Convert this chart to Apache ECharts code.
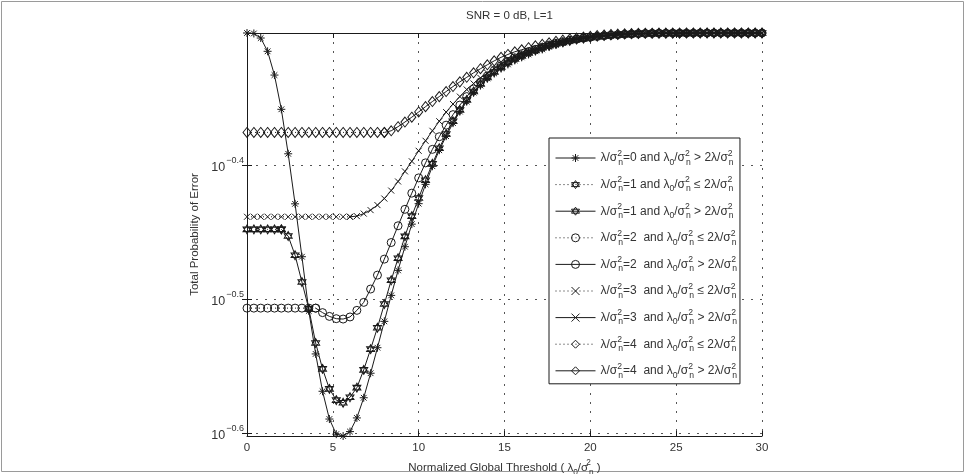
<!DOCTYPE html>
<html><head><meta charset="utf-8">
<script src="https://cdn.jsdelivr.net/npm/echarts@6/dist/echarts.min.js"></script>
<style>html,body{margin:0;padding:0;background:#fff}#c{width:966px;height:474px}</style>
</head><body><div id="c"></div>
<script>
// ---------- data ----------
const threshold = [0,0.4,0.8,1.2,1.6,2,2.4,2.8,3.2,3.6,4,4.4,4.8,5.2,5.6,6,6.4,6.8,7.2,7.6,
  8,8.4,8.8,9.2,9.6,10,10.4,10.8,11.2,11.6,12,12.4,12.8,13.2,13.6,14,14.4,14.8,15.2,15.6,
  16,16.4,16.8,17.2,17.6,18,18.4,18.8,19.2,19.6,20,20.4,20.8,21.2,21.6,22,22.4,22.8,23.2,23.6,
  24,24.4,24.8,25.2,25.6,26,26.4,26.8,27.2,27.6,28,28.4,28.8,29.2,29.6,30];

// lambda/sigma^2 = 0 (starts at threshold 0)
const peLambda0 = [0.5000,0.4996,0.4957,0.4845,0.4651,0.4385,0.4062,0.3727,0.3403,0.3100,
  0.2879,0.2700,0.2574,0.2508,0.2500,0.2519,0.2579,0.2670,0.2785,0.2910,
  0.3045,0.3184,0.3324,0.3462,0.3599,0.3728,0.3854,0.3976,0.4087,0.4187,
  0.4282,0.4368,0.4444,0.4513,0.4568,0.4624,0.4664,0.4704,0.4737,0.4770,
  0.4795,0.4819,0.4845,0.4861,0.4882,0.4899,0.4916,0.4929,0.4942,0.4950,
  0.4959,0.4967,0.4973,0.4978,0.4983,0.4987,0.4990,0.4993,0.4995,0.4997,
  0.4998,0.4998,0.4999,0.4999,0.4999,0.4999,0.5000,0.5000,0.5000,0.5000,
  0.5000,0.5000,0.5000,0.5000,0.5000,0.5000];

// lambda/sigma^2 = 1 : "<=" part from 0 to 2, ">" part from 2 to 30
const boundary1 = 2;
const peLambda1Low = [0.3567,0.3567,0.3567,0.3567,0.3567,0.3567];
const peLambda1High = [0.3567,0.3526,0.3412,0.3258,0.3111,
  0.2934,0.2806,0.2711,0.2659,0.2647,0.2672,0.2717,0.2801,0.2903,0.3012,
  0.3137,0.3268,0.3394,0.3524,0.3649,0.3764,0.3881,0.3993,0.4101,0.4202,
  0.4296,0.4380,0.4456,0.4521,0.4580,0.4632,0.4676,0.4716,0.4753,0.4782,
  0.4807,0.4832,0.4853,0.4874,0.4891,0.4908,0.4920,0.4933,0.4944,0.4952,
  0.4961,0.4969,0.4975,0.4980,0.4984,0.4988,0.4991,0.4993,0.4996,0.4997,
  0.4998,0.4998,0.4999,0.4999,0.4999,0.4999,0.4999,0.5000,0.5000,0.5000,
  0.5000,0.5000,0.5000,0.5000,0.5000,0.5000];

// lambda/sigma^2 = 2 : "<=" part 0..4, ">" part 4..30
const boundary2 = 4;
const peLambda2Low = [0.3115,0.3115,0.3115,0.3115,0.3115,0.3115,0.3115,0.3115,0.3115,0.3115,0.3115];
const peLambda2High = [0.3115,0.3091,0.3071,0.3059,0.3057,0.3068,0.3103,0.3146,0.3219,0.3297,
  0.3389,0.3487,0.3589,0.3692,0.3796,0.3897,0.3999,0.4093,0.4183,0.4267,
  0.4345,0.4417,0.4482,0.4541,0.4596,0.4644,0.4688,0.4725,0.4762,0.4791,
  0.4816,0.4841,0.4861,0.4880,0.4897,0.4912,0.4925,0.4938,0.4947,0.4956,
  0.4964,0.4970,0.4976,0.4981,0.4985,0.4989,0.4991,0.4994,0.4996,0.4997,
  0.4998,0.4998,0.4999,0.4999,0.4999,0.4999,0.5000,0.5000,0.5000,0.5000,
  0.5000,0.5000,0.5000,0.5000,0.5000,0.5000];

// lambda/sigma^2 = 3 : "<=" part 0..6, ">" part 6..30
const boundary3 = 6;
const peLambda3Low = [0.3645,0.3645,0.3645,0.3645,0.3645,0.3645,0.3645,0.3645,
  0.3645,0.3645,0.3645,0.3645,0.3645,0.3645,0.3645,0.3645];
const peLambda3High = [0.3645,0.3649,0.3665,0.3687,0.3719,
  0.3761,0.3813,0.3873,0.3941,0.4010,0.4083,0.4154,0.4226,0.4296,0.4364,
  0.4425,0.4482,0.4537,0.4584,0.4628,0.4668,0.4704,0.4737,0.4770,0.4799,
  0.4824,0.4845,0.4866,0.4884,0.4901,0.4916,0.4929,0.4940,0.4950,0.4959,
  0.4966,0.4973,0.4979,0.4984,0.4988,0.4991,0.4994,0.4996,0.4997,0.4998,
  0.4998,0.4999,0.4999,0.4999,0.4999,0.5000,0.5000,0.5000,0.5000,0.5000,
  0.5000,0.5000,0.5000,0.5000,0.5000,0.5000];

// lambda/sigma^2 = 4 : "<=" part 0..8, ">" part 8..30
const boundary4 = 8;
const peLambda4Low = [0.4214,0.4214,0.4214,0.4214,0.4214,0.4214,0.4214,0.4214,0.4214,0.4214,
  0.4214,0.4214,0.4214,0.4214,0.4214,0.4214,0.4214,0.4214,0.4214,0.4214,0.4214];
const peLambda4High = [0.4214,0.4226,0.4256,0.4290,0.4326,0.4365,0.4405,0.4444,0.4482,0.4521,
  0.4560,0.4597,0.4633,0.4669,0.4702,0.4734,0.4766,0.4795,0.4819,0.4841,
  0.4858,0.4875,0.4891,0.4903,0.4916,0.4929,0.4939,0.4949,0.4957,0.4965,
  0.4971,0.4978,0.4983,0.4987,0.4990,0.4993,0.4995,0.4997,0.4998,0.4998,
  0.4999,0.4999,0.4999,0.4999,0.5000,0.5000,0.5000,0.5000,0.5000,0.5000,
  0.5000,0.5000,0.5000,0.5000,0.5000,0.5000];

const yTickExponents = [-0.6, -0.5, -0.4];
const yRange = [0.25, 0.5];
const xRange = [0, 30];
const xStep = 5;

const seriesNames = [
  'λ/σ²ₙ=0 and λ₀/σ²ₙ > 2λ/σ²ₙ',
  'λ/σ²ₙ=1 and λ₀/σ²ₙ ≤ 2λ/σ²ₙ',
  'λ/σ²ₙ=1 and λ₀/σ²ₙ > 2λ/σ²ₙ',
  'λ/σ²ₙ=2  and λ₀/σ²ₙ ≤ 2λ/σ²ₙ',
  'λ/σ²ₙ=2  and λ₀/σ²ₙ > 2λ/σ²ₙ',
  'λ/σ²ₙ=3  and λ₀/σ²ₙ ≤ 2λ/σ²ₙ',
  'λ/σ²ₙ=3  and λ₀/σ²ₙ > 2λ/σ²ₙ',
  'λ/σ²ₙ=4  and λ₀/σ²ₙ ≤ 2λ/σ²ₙ',
  'λ/σ²ₙ=4  and λ₀/σ²ₙ > 2λ/σ²ₙ'
];
const titleText = 'SNR = 0 dB, L=1';
const xName = 'Normalized Global Threshold ( λ₀/σ²ₙ )';
const yName = 'Total Probability of Error';

// ---------- rendering ----------
const FONT = '"Liberation Sans", Arial, Helvetica, sans-serif';
const INK = '#1a1a1a';
const TXT = '#333';
const CLEAR = 'rgba(255,255,255,0)';

function toRich(s) {
  let out = '', buf = '';
  const flush = () => { if (buf) { out += '{t|' + buf + '}'; buf = ''; } };
  for (const c of s) {
    if (c === 'ₙ') { flush(); out += '{n|n}'; }
    else if (c === '²') { flush(); out += '{p|2}'; }
    else if (c === '₀') { flush(); out += '{n|0}'; }
    else buf += c;
  }
  flush();
  return out;
}
function richStyles(fs) {
  return {
    t: {fontSize: fs, lineHeight: 18, verticalAlign: 'middle', fontFamily: FONT, color: TXT},
    p: {fontSize: fs * 0.72, lineHeight: 8, verticalAlign: 'top', width: 1, fontFamily: FONT, color: TXT},
    n: {fontSize: fs * 0.72, lineHeight: 8, verticalAlign: 'bottom', fontFamily: FONT, color: TXT}
  };
}

function pts(ys, startX) {
  const s = threshold.indexOf(startX);
  return ys.map((y, i) => [threshold[s + i], Math.log10(y)]);
}

const SYM = {
  star: 'path://M0,-5L0,5M-5,0L5,0M-3.54,-3.54L3.54,3.54M-3.54,3.54L3.54,-3.54',
  hexagram: 'path://M0,-10L8.66,5L-8.66,5ZM0,10L8.66,-5L-8.66,-5Z',
  cross: 'path://M-5,-5L5,5M-5,5L5,-5',
  circle: 'circle',
  diamond: 'diamond'
};
const SIZE = {star: 8, hexagram: [8, 9], cross: 6, circle: 8, diamond: [8, 10]};

function mk(name, data, sym, dotted) {
  return {
    name, type: 'line', data, clip: false,
    symbol: SYM[sym], symbolSize: SIZE[sym],
    lineStyle: {color: INK, width: 1, type: dotted ? [1, 3] : 'solid'},
    itemStyle: {color: CLEAR, borderColor: INK, borderWidth: 1},
    emphasis: {disabled: true},
    animation: false
  };
}

const series = [
  mk(seriesNames[0], pts(peLambda0, 0), 'star', false),
  mk(seriesNames[1], pts(peLambda1Low, 0), 'hexagram', true),
  mk(seriesNames[2], pts(peLambda1High, boundary1), 'hexagram', false),
  mk(seriesNames[3], pts(peLambda2Low, 0), 'circle', true),
  mk(seriesNames[4], pts(peLambda2High, boundary2), 'circle', false),
  mk(seriesNames[5], pts(peLambda3Low, 0), 'cross', true),
  mk(seriesNames[6], pts(peLambda3High, boundary3), 'cross', false),
  mk(seriesNames[7], pts(peLambda4Low, 0), 'diamond', true),
  mk(seriesNames[8], pts(peLambda4High, boundary4), 'diamond', false)
];

const yMin = Math.log10(yRange[0]), yMax = Math.log10(yRange[1]);
const gridDots = {color: '#555', width: 1, type: [2, 7]};

const option = {
  animation: false,
  backgroundColor: '#fff',
  title: {
    text: titleText, left: 504.5, top: 5, textAlign: 'center',
    textStyle: {fontFamily: FONT, fontSize: 11.5, fontWeight: 'normal', color: TXT}
  },
  grid: {left: 247, right: 204, top: 33, bottom: 38, containLabel: false, outerBoundsMode: 'none'},
  xAxis: [{
    type: 'value', min: xRange[0], max: xRange[1], interval: xStep,
    axisLine: {show: true, lineStyle: {color: INK, width: 1}},
    axisTick: {inside: true, length: 5, lineStyle: {color: INK}},
    axisLabel: {fontFamily: FONT, fontSize: 11.5, color: TXT, margin: 6},
    splitLine: {show: true, lineStyle: gridDots},
    name: toRich(xName), nameLocation: 'middle', nameGap: 17,
    nameTextStyle: {fontFamily: FONT, fontSize: 11.5, color: TXT, rich: richStyles(11.5)}
  }, {
    type: 'value', position: 'top', min: xRange[0], max: xRange[1], interval: xStep,
    axisLine: {show: true, lineStyle: {color: INK, width: 1}},
    axisTick: {show: true, inside: true, length: 5, lineStyle: {color: INK}},
    axisLabel: {show: false}, splitLine: {show: false}
  }],
  yAxis: [{
    type: 'value', min: yMin, max: yMax,
    axisLine: {show: true, lineStyle: {color: INK, width: 1}},
    axisTick: {show: true, inside: true, length: 5, customValues: yTickExponents, lineStyle: {color: INK}},
    axisLabel: {
      customValues: yTickExponents, margin: 3,
      formatter: v => '{b|10}{e|' + v.toFixed(1).replace('-', '\u2212') + '}',
      rich: {
        b: {fontFamily: FONT, fontSize: 12.5, color: TXT, lineHeight: 18, verticalAlign: 'bottom'},
        e: {fontFamily: FONT, fontSize: 9, color: TXT, lineHeight: 7, verticalAlign: 'top', padding: [0, 0, 0, 1]}
      }
    },
    splitLine: {show: true, lineStyle: gridDots},
    name: yName, nameLocation: 'middle', nameGap: 45,
    nameTextStyle: {fontFamily: FONT, fontSize: 11.5, color: TXT}
  }, {
    type: 'value', position: 'right', min: yMin, max: yMax,
    axisLine: {show: true, lineStyle: {color: INK, width: 1}},
    axisTick: {show: true, inside: true, length: 5, customValues: yTickExponents, lineStyle: {color: INK}},
    axisLabel: {show: false}, splitLine: {show: false}
  }],
  legend: {
    orient: 'vertical', left: 549, top: 138,
    padding: [11, 3, 4, 6], itemGap: 8.6,
    itemWidth: 40, itemHeight: 10,
    backgroundColor: '#fff', borderColor: INK, borderWidth: 1, borderRadius: 0,
    selectedMode: false,
    itemStyle: {color: CLEAR, borderColor: INK, borderWidth: 1},
    lineStyle: {color: INK, width: 1},
    formatter: name => toRich(name),
    textStyle: {fontFamily: FONT, fontSize: 12, color: TXT, lineHeight: 18, rich: richStyles(12)},
    data: seriesNames
  },
  graphic: [{
    type: 'rect', silent: true, z: -1,
    shape: {x: 1.5, y: 1.5, width: 962, height: 470},
    style: {fill: 'none', stroke: '#9a9a9a', lineWidth: 1}
  }],
  series
};

const chart = echarts.init(document.getElementById('c'), null, {renderer: 'canvas'});
chart.setOption(option);
</script>
</body></html>
